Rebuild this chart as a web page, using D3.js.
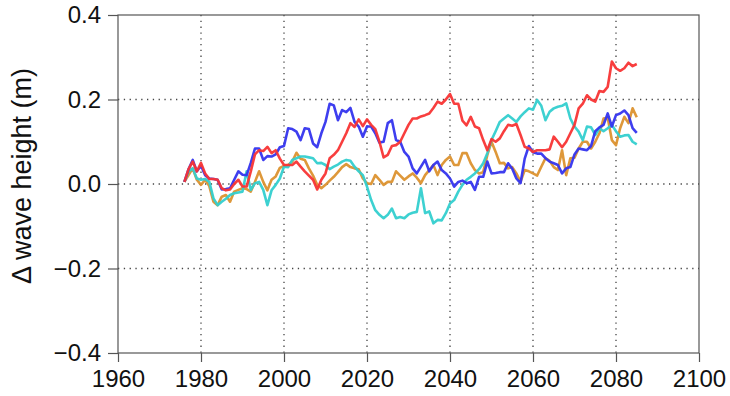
<!DOCTYPE html>
<html>
<head>
<meta charset="utf-8">
<script src="https://cdn.jsdelivr.net/npm/d3@7"></script>
<style>
  body { margin: 0; background: #fff; }
  svg text { font-family: "Liberation Sans", Arial, sans-serif; }
</style>
</head>
<body>
<svg id="chart" width="730" height="396"></svg>
<script>
// annual values, 1976-2085
const years = d3.range(1976, 2086);

const redValues = [
  0.005, 0.035, 0.053, 0.03, 0.05, 0.025, 0.012, 0.012, 0.01, -0.01,
  -0.015, -0.013, 0.0, 0.01, -0.006, -0.006, 0.03, 0.07, 0.08, 0.078,
  0.088, 0.073, 0.08, 0.06, 0.045, 0.045, 0.045, 0.053, 0.041, 0.03,
  0.02, 0.01, -0.013, 0.01, 0.025, 0.061, 0.069, 0.08, 0.1, 0.12,
  0.144, 0.135, 0.153, 0.137, 0.153, 0.14, 0.13, 0.1, 0.063, 0.069,
  0.09, 0.092, 0.1, 0.12, 0.14, 0.155, 0.155, 0.16, 0.163, 0.167,
  0.18, 0.195, 0.19, 0.2, 0.213, 0.19, 0.19, 0.15, 0.139, 0.159,
  0.136, 0.132, 0.104, 0.08, 0.106, 0.1, 0.108, 0.125, 0.14, 0.138,
  0.142, 0.116, 0.088, 0.084, 0.076, 0.08, 0.08, 0.08, 0.082, 0.112,
  0.1, 0.087, 0.1, 0.12, 0.14, 0.179, 0.19, 0.21, 0.2, 0.195,
  0.22, 0.218, 0.23, 0.29, 0.274, 0.268, 0.274, 0.287, 0.279, 0.284
];

const blueValues = [
  0.005, 0.035, 0.057, 0.03, 0.043, 0.021, 0.013, 0.012, 0.01, -0.013,
  -0.012, -0.01, 0.01, 0.03, 0.022, 0.021, 0.05, 0.084, 0.084, 0.057,
  0.066, 0.065, 0.07, 0.087, 0.09, 0.132, 0.13, 0.124, 0.104, 0.132,
  0.13, 0.096, 0.087, 0.12, 0.147, 0.19, 0.186, 0.151, 0.175, 0.17,
  0.18, 0.147, 0.136, 0.112, 0.136, 0.136, 0.12, 0.098, 0.1, 0.144,
  0.151, 0.104, 0.1, 0.076, 0.065, 0.037, 0.025, 0.041, 0.057, 0.03,
  0.045, 0.053, 0.033, 0.025, 0.013, -0.006, 0.005, 0.008, 0.002, 0.005,
  -0.014, 0.017, 0.017, 0.053, 0.025, 0.026, 0.028, 0.028, 0.049, 0.036,
  0.013, 0.002, 0.06, 0.09, 0.075, 0.072, 0.072, 0.061, 0.053, 0.049,
  0.045, 0.025, 0.037, 0.04, 0.07, 0.084, 0.082, 0.08, 0.09, 0.125,
  0.134, 0.14, 0.167, 0.136, 0.163, 0.167, 0.174, 0.163, 0.132, 0.121
];

const cyanValues = [
  0.005, 0.03, 0.037, 0.013, 0.01, 0.012, 0.005, -0.034, -0.05, -0.042,
  -0.035, -0.026, -0.022, -0.02, -0.018, 0.03, -0.014, 0.002, 0.005, -0.014,
  -0.05, -0.015, -0.002, 0.013, 0.041, 0.04, 0.057, 0.061, 0.065, 0.065,
  0.063, 0.061, 0.049, 0.05, 0.045, 0.035, 0.041, 0.046, 0.053, 0.057,
  0.055, 0.041, 0.03, 0.021, -0.006, -0.038, -0.062, -0.073, -0.081, -0.073,
  -0.058, -0.081, -0.078, -0.081, -0.072, -0.068, -0.066, -0.01, -0.069, -0.065,
  -0.093, -0.085, -0.086, -0.069, -0.046, -0.038, -0.018, -0.002, 0.01, 0.017,
  0.025, 0.035, 0.049, 0.073, 0.104, 0.125, 0.147, 0.155, 0.163, 0.155,
  0.147, 0.16, 0.17, 0.179, 0.176, 0.199, 0.185, 0.151, 0.171, 0.179,
  0.183, 0.185, 0.191, 0.155, 0.136, 0.124, 0.104, 0.136, 0.134, 0.116,
  0.132, 0.125, 0.132, 0.14, 0.125, 0.112, 0.115, 0.116, 0.1, 0.094
];

const orangeValues = [
  0.005, 0.021, 0.037, 0.01, -0.002, 0.01, -0.005, -0.042, -0.05, -0.03,
  -0.026, -0.042, -0.018, -0.014, -0.01, -0.012, -0.018, 0.005, 0.03, 0.005,
  -0.015, 0.01, 0.018, 0.038, 0.043, 0.045, 0.053, 0.074, 0.06, 0.057,
  0.037, 0.02, -0.002, -0.01, -0.002, 0.008, 0.017, 0.028, 0.04, 0.047,
  0.04, 0.037, 0.035, 0.013, 0.002, 0.0, 0.021, 0.01, -0.002, 0.005,
  0.005, 0.03, 0.02, 0.01, 0.018, 0.025, 0.015, 0.002, 0.021, 0.033,
  0.045, 0.021, 0.045, 0.057, 0.065, 0.045, 0.045, 0.073, 0.073, 0.049,
  0.033, 0.025, 0.028, 0.069, 0.1, 0.076, 0.049, 0.05, 0.037, 0.04,
  0.025, 0.005, 0.033, 0.03, 0.025, 0.02, 0.041, 0.061, 0.055, 0.04,
  0.033, 0.08, 0.021, 0.061, 0.062, 0.084, 0.1, 0.1, 0.084, 0.1,
  0.12, 0.155, 0.157, 0.104, 0.092, 0.132, 0.159, 0.144, 0.179, 0.158
];

const xTicks = [1960, 1980, 2000, 2020, 2040, 2060, 2080, 2100];
const yTicks = [-0.4, -0.2, 0.0, 0.2, 0.4];

const seriesList = [
  { name: "orange", color: "#dc922f", values: orangeValues },
  { name: "cyan", color: "#33cfcf", values: cyanValues },
  { name: "blue", color: "#3434ee", values: blueValues },
  { name: "red", color: "#f83434", values: redValues }
];

const margin = { top: 15, right: 31, bottom: 43, left: 118 };
const width = 730 - margin.left - margin.right;
const height = 396 - margin.top - margin.bottom;

const svg = d3.select("#chart");
const g = svg.append("g").attr("transform", `translate(${margin.left},${margin.top})`);

const x = d3.scaleLinear().domain([1960, 2100]).range([0, width]);
const y = d3.scaleLinear().domain([-0.4, 0.4]).range([height, 0]);

// dotted grid
g.append("g")
  .selectAll("line")
  .data(xTicks.slice(1, -1))
  .join("line")
  .attr("x1", d => x(d)).attr("x2", d => x(d))
  .attr("y1", 0).attr("y2", height)
  .attr("stroke", "#444")
  .attr("stroke-width", 1.3)
  .attr("stroke-dasharray", "1.3,4.5");

g.append("g")
  .selectAll("line")
  .data(yTicks.slice(1, -1))
  .join("line")
  .attr("y1", d => y(d)).attr("y2", d => y(d))
  .attr("x1", 0).attr("x2", width)
  .attr("stroke", "#444")
  .attr("stroke-width", 1.3)
  .attr("stroke-dasharray", "1.3,4.5");

// lines
const line = d3.line()
  .x((d, i) => x(years[i]))
  .y(d => y(d));

g.append("g")
  .selectAll("path")
  .data(seriesList)
  .join("path")
  .attr("d", s => line(s.values))
  .attr("fill", "none")
  .attr("stroke", s => s.color)
  .attr("stroke-width", 2.6)
  .attr("stroke-linejoin", "round")
  .attr("stroke-opacity", 0.95);

// box
g.append("rect")
  .attr("width", width).attr("height", height)
  .attr("fill", "none")
  .attr("stroke", "#555")
  .attr("stroke-width", 1.2);

// axes
const xAxis = g.append("g")
  .attr("transform", `translate(0,${height})`)
  .call(d3.axisBottom(x).tickValues(xTicks).tickFormat(d3.format("d")).tickSize(9).tickPadding(8));

const yAxis = g.append("g")
  .call(d3.axisLeft(y).tickValues(yTicks).tickFormat(d => d3.format(".1f")(d).replace("-", "\u2212")).tickSize(10).tickPadding(7));

[xAxis, yAxis].forEach(a => {
  a.select(".domain").remove();
  a.selectAll(".tick line").attr("stroke", "#555").attr("stroke-width", 1.2);
  a.selectAll(".tick text")
    .attr("fill", "#111")
    .style("font-size", "24px")
    .style("font-family", "Liberation Sans, Arial, sans-serif");
});

// y label
svg.append("text")
  .attr("transform", `translate(31,176) rotate(-90)`)
  .attr("text-anchor", "middle")
  .attr("fill", "#111")
  .style("font-size", "27px")
  .text("\u0394 wave height (m)");
</script>
</body>
</html>
